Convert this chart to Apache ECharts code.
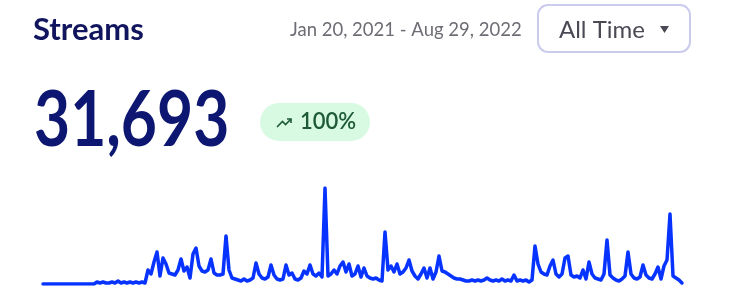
<!DOCTYPE html>
<html><head><meta charset="utf-8">
<script src="https://cdn.jsdelivr.net/npm/echarts@6/dist/echarts.min.js"></script>
<style>html,body{margin:0;padding:0;background:#fff}#c{width:732px;height:306px}</style>
</head><body><div id="c"></div>
<script>
const title = 'Streams';
const dateRange = 'Jan 20, 2021 - Aug 29, 2022';
const rangeLabel = 'All Time';
const totalLabel = '31,693';
const changeLabel = '100%';

// streams per 3-day period, Jan 20 2021 -> Aug 29 2022
const streams = [
  0,0,0,0,0,0,0,0,0,0,0,0,0,0,0,0,0,0,
  2,1,2,1,1,2,1,3,1,2,1,2,1,2,1,2,1,
  14,10,22,32,8,26,20,11,10,9,14,25,13,17,6,30,36,18,13,12,14,25,11,9,9,10,48,14,6,5,4,3,5,3,4,
  6,21,10,6,5,7,19,9,5,4,5,19,9,11,5,4,6,13,10,19,10,8,11,7,96,8,10,14,10,18,22,12,20,8,10,
  18,7,16,8,6,5,6,4,3,52,14,18,12,20,10,12,16,24,13,8,5,10,16,6,16,5,12,28,13,12,10,8,6,5,
  5,4,3,3,4,3,4,3,4,6,4,3,4,3,5,3,4,3,9,3,4,3,4,2,4,38,20,12,10,9,18,24,10,7,
  10,26,28,9,7,8,6,14,5,22,10,6,5,4,10,44,9,6,4,3,5,8,32,10,6,5,7,19,9,6,5,10,17,5,18,24,70,8,6,4,1
];
const periods = streams.map((_, i) => 'P' + (i + 1));

const chart = echarts.init(document.getElementById('c'), null, {renderer: 'canvas'});
const FF = 'Lato, "Noto Sans", sans-serif';
chart.setOption({
  animation: false,
  grid: {left: 43, right: 50, top: 188, bottom: 22},
  xAxis: {type: 'category', data: periods, boundaryGap: false, show: false},
  yAxis: {type: 'value', min: 0, max: 96, show: false},
  series: [{
    type: 'line', data: streams, symbol: 'none', smooth: false,
    lineStyle: {color: '#0633ff', width: 3.5, join: 'round', cap: 'round'}
  }],
  graphic: [
    {type: 'text', x: 33, y: 30, style: {text: title, fontFamily: FF, fontSize: 31, fontWeight: 700, fill: '#11155e', align: 'left', verticalAlign: 'middle'}},
    {type: 'text', x: 290, y: 30, style: {text: dateRange, fontFamily: FF, fontSize: 18.5, fontWeight: 400, fill: '#6d6d75', align: 'left', verticalAlign: 'middle'}},
    {type: 'rect', shape: {x: 538, y: 5, width: 152, height: 47, r: 10}, style: {fill: '#fff', stroke: '#cbcbee', lineWidth: 2}},
    {type: 'text', x: 559, y: 30, style: {text: rangeLabel, fontFamily: FF, fontSize: 24, fontWeight: 400, fill: '#4a4a55', align: 'left', verticalAlign: 'middle'}},
    {type: 'polygon', shape: {points: [[660, 26], [669, 26], [664.5, 33]]}, style: {fill: '#4a4a55'}},
    {type: 'text', x: 34, y: 121, scaleX: 0.82, style: {text: totalLabel, fontFamily: FF, fontSize: 76, fontWeight: 700, fill: '#0d1670', align: 'left', verticalAlign: 'middle'}},
    {type: 'rect', shape: {x: 260, y: 103, width: 110, height: 38, r: 19}, style: {fill: '#d8fae3'}},
    {type: 'polyline', shape: {points: [[277, 127], [282.5, 121.5], [285.5, 124.5], [291, 119]]}, style: {stroke: '#1e5a35', lineWidth: 1.6, fill: null}},
    {type: 'polyline', shape: {points: [[287, 119], [291, 119], [291, 123]]}, style: {stroke: '#1e5a35', lineWidth: 1.6, fill: null}},
    {type: 'text', x: 300, y: 122, style: {text: changeLabel, fontFamily: FF, fontSize: 22, fontWeight: 600, fill: '#1e5a35', align: 'left', verticalAlign: 'middle'}}
  ]
});
</script></body></html>
